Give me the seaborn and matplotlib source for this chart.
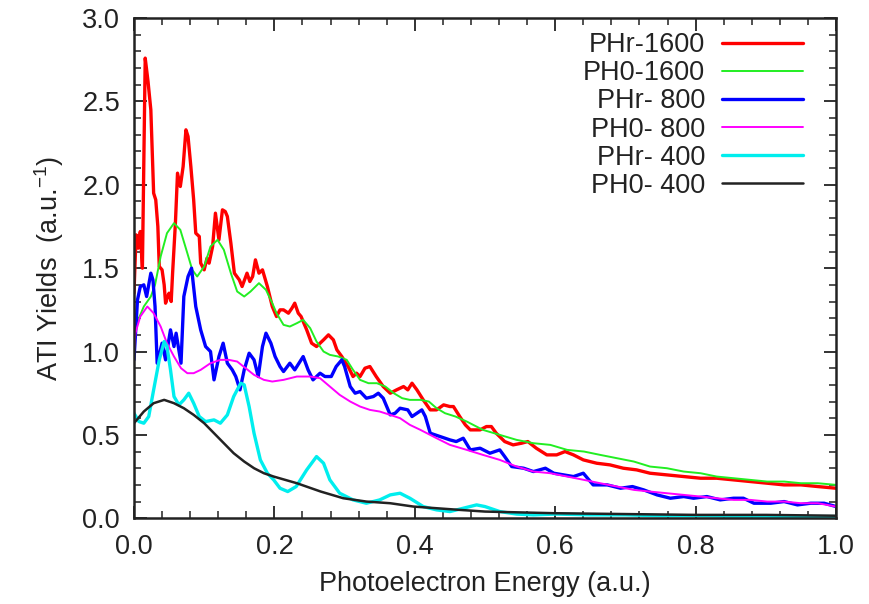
import matplotlib
matplotlib.use("Agg")
import matplotlib.pyplot as plt
from matplotlib.ticker import MultipleLocator, FormatStrFormatter
import seaborn as sns
import pandas as pd

# values
red_x = [0.0, 0.003, 0.006, 0.009, 0.012, 0.016, 0.020, 0.024, 0.028, 0.031, 0.034, 0.036, 0.040, 0.043,
         0.045, 0.048, 0.050, 0.053, 0.055, 0.059, 0.062, 0.066, 0.070, 0.074, 0.077, 0.081, 0.085, 0.088,
         0.093, 0.095, 0.100, 0.104, 0.107, 0.112, 0.116, 0.121, 0.126, 0.130, 0.133, 0.138, 0.143, 0.150,
         0.154, 0.161, 0.165, 0.169, 0.173, 0.178, 0.183, 0.190, 0.197, 0.203, 0.208, 0.213, 0.220, 0.225,
         0.229, 0.234, 0.238, 0.246, 0.253, 0.260, 0.265, 0.270, 0.277, 0.284, 0.289, 0.296, 0.305, 0.312,
         0.317, 0.322, 0.329, 0.336, 0.345, 0.355, 0.365, 0.374, 0.384, 0.390, 0.396, 0.403, 0.412, 0.422,
         0.431, 0.441, 0.450, 0.455, 0.464, 0.472, 0.479, 0.493, 0.502, 0.509, 0.516, 0.528, 0.540, 0.552,
         0.561, 0.573, 0.588, 0.602, 0.614, 0.626, 0.640, 0.659, 0.678, 0.697, 0.716, 0.735, 0.759, 0.783,
         0.807, 0.830, 0.854, 0.878, 0.902, 0.926, 0.950, 0.974, 1.0]
red_y = [1.35, 1.70, 1.62, 1.72, 1.50, 2.76, 2.62, 2.45, 1.95, 1.91, 1.75, 1.51, 1.49, 1.40,
         1.29, 1.33, 1.35, 1.30, 1.47, 1.77, 2.07, 1.99, 2.11, 2.33, 2.29, 2.11, 1.91, 1.71,
         1.69, 1.53, 1.49, 1.56, 1.53, 1.63, 1.83, 1.67, 1.85, 1.84, 1.81, 1.65, 1.47, 1.43,
         1.39, 1.47, 1.42, 1.45, 1.55, 1.47, 1.49, 1.39, 1.27, 1.21, 1.25, 1.25, 1.23, 1.26,
         1.29, 1.23, 1.21, 1.13, 1.05, 1.03, 1.05, 1.07, 1.10, 1.07, 1.01, 0.97, 0.91, 0.85,
         0.87, 0.85, 0.90, 0.91, 0.85, 0.79, 0.75, 0.77, 0.79, 0.77, 0.81, 0.77, 0.71, 0.65,
         0.65, 0.68, 0.67, 0.67, 0.61, 0.56, 0.53, 0.53, 0.55, 0.55, 0.51, 0.46, 0.44, 0.45,
         0.46, 0.42, 0.38, 0.38, 0.40, 0.38, 0.35, 0.33, 0.32, 0.30, 0.29, 0.27, 0.26, 0.25,
         0.24, 0.24, 0.23, 0.22, 0.21, 0.20, 0.20, 0.19, 0.18]

green_x = [0.0, 0.004, 0.014, 0.024, 0.030, 0.038, 0.047, 0.057, 0.066, 0.076, 0.083, 0.090, 0.100,
           0.109, 0.119, 0.128, 0.138, 0.147, 0.157, 0.166, 0.178, 0.188, 0.197, 0.203, 0.213, 0.222,
           0.232, 0.241, 0.251, 0.260, 0.270, 0.279, 0.291, 0.303, 0.312, 0.322, 0.334, 0.346, 0.358,
           0.370, 0.382, 0.393, 0.408, 0.420, 0.431, 0.443, 0.458, 0.474, 0.497, 0.521, 0.545, 0.569,
           0.593, 0.617, 0.641, 0.664, 0.688, 0.712, 0.735, 0.759, 0.783, 0.807, 0.830, 0.854, 0.878,
           0.902, 0.926, 0.950, 0.974, 1.0]
green_y = [1.05, 1.17, 1.27, 1.33, 1.40, 1.57, 1.71, 1.77, 1.73, 1.59, 1.49, 1.45, 1.51,
           1.63, 1.67, 1.61, 1.47, 1.36, 1.33, 1.36, 1.41, 1.37, 1.29, 1.23, 1.16, 1.15,
           1.17, 1.19, 1.14, 1.06, 1.00, 0.98, 0.97, 0.95, 0.89, 0.83, 0.81, 0.81, 0.79,
           0.75, 0.72, 0.71, 0.71, 0.70, 0.66, 0.63, 0.61, 0.58, 0.53, 0.50, 0.47, 0.45,
           0.44, 0.41, 0.40, 0.38, 0.36, 0.34, 0.31, 0.30, 0.28, 0.27, 0.25, 0.24, 0.23,
           0.22, 0.22, 0.21, 0.21, 0.20]

blue_x = [0.0, 0.005, 0.009, 0.014, 0.018, 0.024, 0.027, 0.030, 0.033, 0.040, 0.045, 0.052, 0.057,
          0.060, 0.067, 0.071, 0.077, 0.082, 0.088, 0.095, 0.102, 0.109, 0.114, 0.121, 0.127, 0.133,
          0.140, 0.145, 0.151, 0.157, 0.164, 0.171, 0.177, 0.183, 0.188, 0.195, 0.201, 0.208, 0.213,
          0.222, 0.229, 0.241, 0.248, 0.255, 0.265, 0.272, 0.281, 0.288, 0.296, 0.300, 0.308, 0.315,
          0.322, 0.331, 0.341, 0.348, 0.355, 0.365, 0.372, 0.379, 0.390, 0.396, 0.403, 0.410, 0.415,
          0.422, 0.436, 0.450, 0.459, 0.469, 0.479, 0.493, 0.507, 0.521, 0.528, 0.538, 0.555, 0.569,
          0.586, 0.598, 0.612, 0.626, 0.640, 0.654, 0.674, 0.693, 0.710, 0.726, 0.745, 0.764, 0.783,
          0.797, 0.816, 0.835, 0.854, 0.868, 0.883, 0.907, 0.926, 0.945, 0.964, 0.983, 1.0]
blue_y = [0.95, 1.31, 1.39, 1.40, 1.33, 1.47, 1.43, 1.27, 0.93, 1.05, 0.95, 1.13, 1.03,
          1.11, 0.93, 1.33, 1.45, 1.50, 1.27, 1.13, 1.03, 1.00, 0.83, 0.97, 1.05, 0.93,
          0.89, 0.85, 0.77, 0.89, 0.99, 0.95, 0.85, 1.03, 1.11, 1.05, 0.97, 0.91, 0.88,
          0.93, 0.89, 0.97, 0.89, 0.83, 0.87, 0.85, 0.85, 0.91, 0.95, 0.91, 0.79, 0.75,
          0.76, 0.72, 0.73, 0.75, 0.72, 0.62, 0.63, 0.66, 0.65, 0.61, 0.63, 0.65, 0.61,
          0.51, 0.49, 0.47, 0.46, 0.48, 0.41, 0.42, 0.39, 0.41, 0.37, 0.31, 0.30, 0.28,
          0.30, 0.27, 0.26, 0.25, 0.27, 0.20, 0.20, 0.18, 0.19, 0.17, 0.14, 0.12, 0.13,
          0.12, 0.13, 0.11, 0.12, 0.12, 0.09, 0.09, 0.10, 0.08, 0.09, 0.09, 0.07]

magenta_x = [0.0, 0.002, 0.009, 0.019, 0.028, 0.038, 0.047, 0.057, 0.067, 0.076, 0.085, 0.095, 0.109,
             0.123, 0.135, 0.147, 0.159, 0.171, 0.185, 0.197, 0.213, 0.232, 0.251, 0.265, 0.279, 0.293,
             0.308, 0.322, 0.336, 0.350, 0.365, 0.379, 0.393, 0.408, 0.431, 0.450, 0.474, 0.497, 0.521,
             0.545, 0.569, 0.593, 0.617, 0.641, 0.664, 0.688, 0.712, 0.735, 0.759, 0.783, 0.807, 0.830,
             0.854, 0.878, 0.902, 0.926, 0.950, 0.974, 1.0]
magenta_y = [1.00, 1.11, 1.21, 1.27, 1.23, 1.15, 1.05, 0.97, 0.90, 0.87, 0.87, 0.89, 0.93,
             0.95, 0.95, 0.94, 0.90, 0.86, 0.83, 0.82, 0.83, 0.85, 0.85, 0.84, 0.79, 0.74,
             0.70, 0.67, 0.65, 0.64, 0.62, 0.60, 0.56, 0.53, 0.48, 0.44, 0.41, 0.38, 0.35,
             0.31, 0.28, 0.27, 0.25, 0.23, 0.21, 0.19, 0.17, 0.16, 0.15, 0.14, 0.13, 0.12,
             0.11, 0.11, 0.10, 0.10, 0.09, 0.09, 0.07]

cyan_x = [0.0, 0.007, 0.014, 0.021, 0.028, 0.036, 0.043, 0.047, 0.052, 0.057, 0.064, 0.071, 0.078,
          0.085, 0.093, 0.102, 0.114, 0.123, 0.133, 0.142, 0.152, 0.157, 0.164, 0.171, 0.180, 0.190,
          0.199, 0.208, 0.219, 0.231, 0.246, 0.260, 0.270, 0.279, 0.293, 0.312, 0.331, 0.350, 0.365,
          0.379, 0.393, 0.412, 0.431, 0.450, 0.469, 0.488, 0.500, 0.521, 0.545, 0.569, 0.60, 0.65,
          0.70, 0.75, 0.80, 0.85, 0.90, 0.95, 1.0]
cyan_y = [0.63, 0.58, 0.57, 0.61, 0.77, 0.95, 1.06, 1.03, 0.89, 0.73, 0.68, 0.71, 0.75,
          0.69, 0.61, 0.58, 0.59, 0.57, 0.62, 0.73, 0.81, 0.80, 0.67, 0.51, 0.35, 0.27,
          0.23, 0.18, 0.16, 0.19, 0.29, 0.37, 0.33, 0.23, 0.15, 0.11, 0.09, 0.11, 0.14,
          0.15, 0.12, 0.07, 0.05, 0.04, 0.06, 0.08, 0.07, 0.04, 0.025, 0.02, 0.025, 0.02,
          0.02, 0.015, 0.015, 0.012, 0.012, 0.01, 0.01]

black_x = [0.0, 0.014, 0.028, 0.043, 0.057, 0.071, 0.085, 0.100, 0.114, 0.128, 0.142, 0.157, 0.171,
           0.185, 0.199, 0.232, 0.266, 0.298, 0.331, 0.365, 0.398, 0.431, 0.464, 0.500, 0.55, 0.60,
           0.70, 0.80, 0.90, 1.0]
black_y = [0.57, 0.64, 0.69, 0.71, 0.69, 0.66, 0.62, 0.57, 0.51, 0.45, 0.39, 0.34, 0.30,
           0.27, 0.25, 0.21, 0.16, 0.12, 0.10, 0.09, 0.07, 0.06, 0.05, 0.04, 0.035, 0.03,
           0.025, 0.02, 0.02, 0.015]

series = [
    ("PHr-1600", red_x, red_y, "#ff0000", 2.4),
    ("PH0-1600", green_x, green_y, "#22ee22", 1.4),
    ("PHr- 800", blue_x, blue_y, "#0000ff", 2.4),
    ("PH0- 800", magenta_x, magenta_y, "#ff00ff", 1.4),
    ("PHr- 400", cyan_x, cyan_y, "#00eeee", 2.4),
    ("PH0- 400", black_x, black_y, "#222222", 1.8),
]

sns.set_theme(style="ticks")
plt.rcParams["font.family"] = ["Liberation Sans", "DejaVu Sans"]
plt.rcParams["mathtext.default"] = "regular"

fs = 19.5
fig = plt.figure(figsize=(8.7, 6.04), dpi=100)
ax = fig.add_axes([0.154, 0.142, 0.807, 0.828])

for name, xs, ys, color, lw in series:
    df = pd.DataFrame({"x": xs, "y": ys})
    sns.lineplot(data=df, x="x", y="y", ax=ax, color=color, linewidth=lw,
                 label=name, estimator=None, sort=False)

ax.set_xlim(0, 1.0)
ax.set_ylim(0, 3.0)
ax.xaxis.set_major_locator(MultipleLocator(0.2))
ax.xaxis.set_minor_locator(MultipleLocator(0.04))
ax.yaxis.set_major_locator(MultipleLocator(0.5))
ax.yaxis.set_minor_locator(MultipleLocator(0.1))
ax.xaxis.set_major_formatter(FormatStrFormatter("%.1f"))
ax.yaxis.set_major_formatter(FormatStrFormatter("%.1f"))
ax.tick_params(which="both", direction="in", top=True, right=True, colors="#222222",
               labelsize=fs, labelcolor="#222222")
ax.tick_params(axis="y", which="major", length=9, width=1.3, pad=10)
ax.tick_params(axis="x", which="major", length=9, width=1.3, pad=11)
ax.tick_params(which="minor", length=5, width=1.1)
for sp in ax.spines.values():
    sp.set_linewidth(1.8)
    sp.set_color("#222222")

ax.set_xlabel("Photoelectron Energy (a.u.)", fontsize=fs, color="#222222", labelpad=8)
ax.set_ylabel("ATI Yields  (a.u.$^{-1}$)", fontsize=fs, color="#222222", labelpad=12)

ax.legend(loc="upper right", bbox_to_anchor=(0.961, 0.983), frameon=False, fontsize=fs,
          markerfirst=False, handlelength=3.0, handletextpad=0.63, labelspacing=0.08,
          borderpad=0.2, borderaxespad=0.0, labelcolor="#222222")

fig.savefig("out.png", dpi=100)
